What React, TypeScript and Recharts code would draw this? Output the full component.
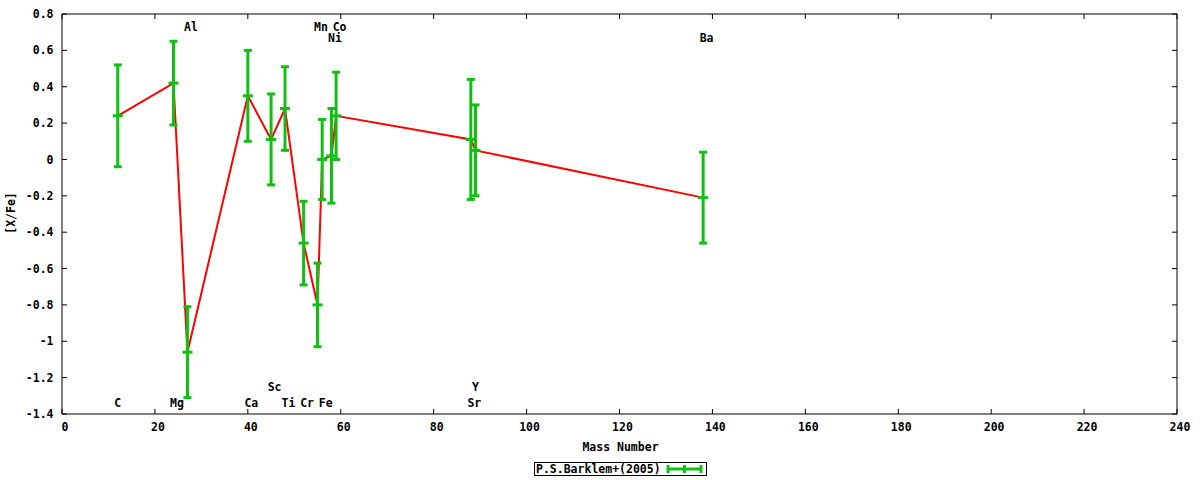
import React from 'react';
import { ComposedChart, XAxis, YAxis, Line, Scatter, ErrorBar, Legend } from 'recharts';

// ---- data ----
const elements = ['C', 'Mg', 'Al', 'Ca', 'Sc', 'Ti', 'Cr', 'Mn', 'Fe', 'Ni', 'Co', 'Sr', 'Y', 'Ba'];
const massNumbers = [12, 24, 27, 40, 45, 48, 52, 55, 56, 58, 59, 88, 89, 138];
const abundances = [0.24, 0.42, -1.06, 0.35, 0.11, 0.28, -0.46, -0.8, 0.0, 0.02, 0.24, 0.11, 0.05, -0.21];
const errors = [0.28, 0.23, 0.25, 0.25, 0.25, 0.23, 0.23, 0.23, 0.22, 0.26, 0.24, 0.33, 0.25, 0.25];
const labelYs = [-1.34, -1.34, 0.73, -1.34, -1.25, -1.34, -1.34, 0.73, -1.34, 0.67, 0.73, -1.34, -1.25, 0.67];
const xTicks = [0, 20, 40, 60, 80, 100, 120, 140, 160, 180, 200, 220, 240];
const yTicks = [-1.4, -1.2, -1, -0.8, -0.6, -0.4, -0.2, 0, 0.2, 0.4, 0.6, 0.8];
const seriesName = 'P.S.Barklem+(2005)';
const xLabel = 'Mass Number';
const yLabel = '[X/Fe]';

const points = massNumbers.map((m, i) => ({ m, v: abundances[i], err: errors[i] }));
const labelPoints = massNumbers.map((m, i) => ({ m, v: labelYs[i], name: elements[i] }));

// ---- style ----
const GREEN = '#10c010';
const RED = '#ff0000';
const FONT = '"DejaVu Sans Mono", "Liberation Mono", monospace';
const FS = 11.5;

const fmtY = (v: number) => String(Math.round(v * 10) / 10);

const CenterTick = (props: any) => {
  const { cx, cy } = props;
  if (cx == null || cy == null) return null;
  return <rect x={cx - 5} y={cy - 1.5} width={10} height={3} fill={GREEN} />;
};

const ElementLabel = (props: any) => {
  const { cx, cy, payload } = props;
  if (cx == null || cy == null || !payload) return null;
  const n = String(payload.name).length;
  return (
    <text
      x={cx + (n - 1) * 3.5}
      y={cy}
      dy="0.36em"
      textAnchor="middle"
      fontFamily={FONT}
      fontWeight="bold"
      fontSize={FS}
      fill="#000"
    >
      {payload.name}
    </text>
  );
};

const EmptyTick = () => null;

const renderLegend = (props: any) => {
  const payload = (props.payload || []).filter((p: any) => p.type !== 'none');
  const name = payload.length ? payload[0].value : seriesName;
  return (
    <div
      style={{
        display: 'flex',
        width: 'max-content',
        alignItems: 'center',
        border: '1px solid #000',
        height: 12,
        padding: '0 3px 0 1px',
        fontFamily: FONT,
        fontWeight: 'bold',
        fontSize: FS,
        lineHeight: '12px',
        color: '#000',
        background: '#fff',
        whiteSpace: 'nowrap',
      }}
    >
      <span>{name}</span>
      <svg width={37} height={10} style={{ marginLeft: 5, display: 'block' }}>
        <line x1={1} x2={36} y1={5} y2={5} stroke={GREEN} strokeWidth={3} />
        <line x1={2} x2={2} y1={1} y2={9} stroke={GREEN} strokeWidth={3} />
        <line x1={35} x2={35} y1={1} y2={9} stroke={GREEN} strokeWidth={3} />
        <line x1={18.5} x2={18.5} y1={1} y2={9} stroke={GREEN} strokeWidth={3} />
      </svg>
    </div>
  );
};

const tickStyle = { fill: '#000', fontSize: FS, fontFamily: FONT, fontWeight: 'bold' } as any;

export default function App() {
  return (
    <div
      style={{
        position: 'absolute',
        left: 0,
        top: 0,
        width: 1200,
        height: 480,
        background: '#fff',
        fontFamily: FONT,
        lineHeight: 0,
      }}
    >
      <ComposedChart width={1200} height={480} margin={{ top: 13, right: 22, bottom: 46, left: 0 }}>
        <XAxis
          type="number"
          dataKey="m"
          domain={[0, 240]}
          ticks={xTicks}
          interval={0}
          allowDataOverflow
          height={20}
          tickSize={-5}
          tickMargin={14}
          axisLine={{ stroke: '#000' }}
          tickLine={{ stroke: '#000' }}
          tick={{ ...tickStyle, dx: 3 }}
          label={{
            content: (p: any) => {
              const vb = p.viewBox || {};
              const cx = vb.x + vb.width / 2 + 1;
              const cy = vb.y + 33;
              return (
                <text x={cx} y={cy} dy="0.36em" textAnchor="middle" fontFamily={FONT} fontWeight="bold" fontSize={FS} fill="#000">
                  {xLabel}
                </text>
              );
            },
          }}
        />
        <XAxis
          xAxisId="top"
          orientation="top"
          type="number"
          dataKey="m"
          domain={[0, 240]}
          ticks={xTicks}
          interval={0}
          allowDataOverflow
          height={1}
          tickSize={-5}
          axisLine={{ stroke: '#000' }}
          tickLine={{ stroke: '#000' }}
          tick={<EmptyTick />}
        />
        <YAxis
          type="number"
          dataKey="v"
          domain={[-1.4, 0.8]}
          ticks={yTicks}
          interval={0}
          allowDataOverflow
          width={62}
          tickSize={-5}
          tickMargin={13.5}
          axisLine={{ stroke: '#000' }}
          tickLine={{ stroke: '#000' }}
          tick={tickStyle}
          tickFormatter={fmtY}
          label={{
            content: (p: any) => {
              const vb = p.viewBox || {};
              const cx = vb.x + 10.5;
              const cy = vb.y + vb.height / 2 - 1;
              return (
                <text
                  x={cx}
                  y={cy}
                  dy="0.36em"
                  textAnchor="middle"
                  transform={`rotate(-90 ${cx} ${cy})`}
                  fontFamily={FONT}
                  fontWeight="bold"
                  fontSize={FS}
                  fill="#000"
                >
                  {yLabel}
                </text>
              );
            },
          }}
        />
        <YAxis
          yAxisId="right"
          orientation="right"
          type="number"
          dataKey="v"
          domain={[-1.4, 0.8]}
          ticks={yTicks}
          interval={0}
          allowDataOverflow
          width={1}
          tickSize={-5}
          axisLine={{ stroke: '#000' }}
          tickLine={{ stroke: '#000' }}
          tick={<EmptyTick />}
        />
        <Legend
          layout="horizontal"
          verticalAlign="middle"
          align="center"
          content={renderLegend}
          wrapperStyle={{ position: 'absolute', left: 534, top: 462, width: 'auto', height: 'auto', lineHeight: 0 }}
        />
        <Line
          data={points}
          dataKey="v"
          stroke={RED}
          strokeWidth={2}
          dot={false}
          activeDot={false}
          legendType="none"
          isAnimationActive={false}
        />
        <Scatter
          data={points}
          dataKey="v"
          name={seriesName}
          fill={GREEN}
          shape={<CenterTick />}
          isAnimationActive={false}
        >
          <ErrorBar dataKey="err" direction="y" width={4} strokeWidth={3} stroke={GREEN} isAnimationActive={false} />
        </Scatter>
        <Scatter
          data={labelPoints}
          dataKey="v"
          xAxisId="top"
          yAxisId="right"
          legendType="none"
          shape={<ElementLabel />}
          isAnimationActive={false}
        />
      </ComposedChart>
    </div>
  );
}
